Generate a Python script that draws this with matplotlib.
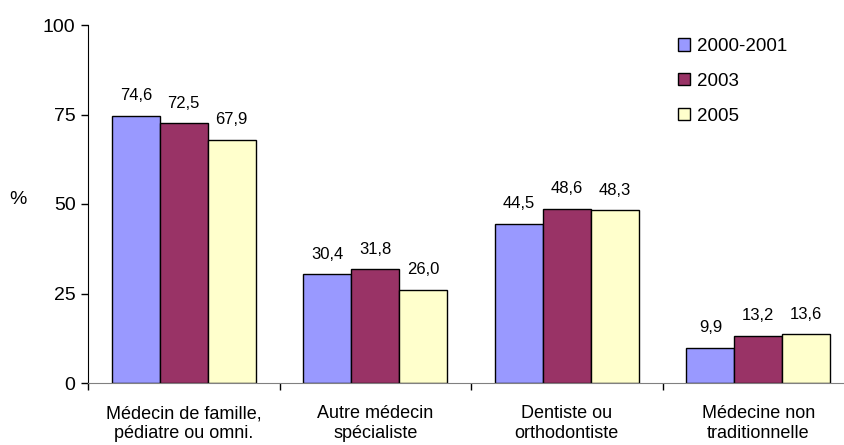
import matplotlib
matplotlib.use("Agg")
import matplotlib.pyplot as plt
import numpy as np

categories = ["Médecin de famille,\npédiatre ou omni.", "Autre médecin\nspécialiste",
              "Dentiste ou\northodontiste", "Médecine non\ntraditionnelle"]
series_names = ["2000-2001", "2003", "2005"]
v2000 = [74.6, 30.4, 44.5, 9.9]
v2003 = [72.5, 31.8, 48.6, 13.2]
v2005 = [67.9, 26.0, 48.3, 13.6]
colors = ["#9999FF", "#993366", "#FFFFCC"]
yticks = [0, 25, 50, 75, 100]

plt.rcParams['font.family'] = ['Liberation Sans', 'DejaVu Sans']

W, H = 845, 445
fig = plt.figure(figsize=(W/100, H/100), dpi=100)
left, right, bottom, top = 88, 854, 383, 25
ax = fig.add_axes([left/W, 1-bottom/H, (right-left)/W, (bottom-top)/H])

x = np.arange(len(categories))
bw = 0.25
for i, (vals, name, c) in enumerate(zip([v2000, v2003, v2005], series_names, colors)):
    pos = x + (i-1)*bw
    ax.bar(pos, vals, bw, color=c, edgecolor='black', linewidth=1.0, label=name)
    for p, v in zip(pos, vals):
        ax.text(p, v + 3.5, f"{v:.1f}".replace('.', ','), ha='center', va='bottom', fontsize=12)

ax.set_xlim(-0.5, len(categories)-0.5)
ax.set_ylim(0, 100)
ax.set_yticks(yticks)
ax.set_yticklabels([str(t) for t in yticks], fontsize=14)
ax.tick_params(axis='y', length=5, width=1, direction='out', pad=4)

ax.set_xticks(np.arange(len(categories)+1) - 0.5)
ax.set_xticklabels([])
ax.set_xticks(x, minor=True)
ax.set_xticklabels(categories, minor=True, fontsize=13, linespacing=1.2)
ax.tick_params(axis='x', which='minor', length=0, pad=16)
ax.tick_params(axis='x', which='major', length=5, width=1, direction='out')

for s in ['top', 'right']:
    ax.spines[s].set_visible(False)
ax.spines['left'].set_color('black')
ax.spines['bottom'].set_color('#808080')

fig.text(18/W, 1-200/H, "%", fontsize=14, ha='center', va='center')

leg = ax.legend(loc='upper left', bbox_to_anchor=((678-left)/(right-left), 1-(38-top)/(bottom-top)),
                frameon=False, fontsize=13.5, handlelength=0.65, handleheight=0.65,
                handletextpad=0.35, labelspacing=0.95, borderaxespad=0, borderpad=0)

fig.savefig("out.png", dpi=100)
